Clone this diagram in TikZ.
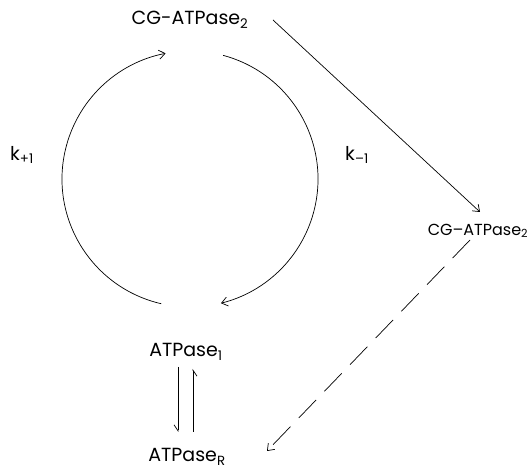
\documentclass[tikz,border=0pt]{standalone}
\usepackage{fontspec}
\setmainfont{Poppins}
\usetikzlibrary{arrows.meta,calc}
\newcommand{\sbs}[1]{\textsubscript{#1}}
\begin{document}
\begin{tikzpicture}[x=1pt,y=1pt,
  lbl/.style={inner sep=0pt, font=\fontsize{19}{21}\selectfont},
  slbl/.style={inner sep=0pt, font=\fontsize{16}{18}\selectfont},
  conn/.style={line width=0.7pt, -{Straight Barb[length=6pt,width=9pt]}},
  harp/.style={line width=0.7pt, -{Straight Barb[length=6pt,width=8pt,right]}}]
\useasboundingbox (0,0) rectangle (528,469);
\coordinate (c) at (190,290);
\node[lbl] (cg1) at (190,449) {CG-ATPase\sbs{2}};
\node[slbl] (cg2) at (478,238) {CG–ATPase\sbs{2}};
\node[lbl] (a1) at (186,117) {ATPase\sbs{1}};
\node[lbl] (aR) at (187,12) {ATPase\sbs{R}};
\node[lbl] (kp) at (22,314) {k\sbs{+1}};
\node[lbl] (km) at (357,314) {k\sbs{–1}};
\draw[conn] ($(c)+(257:128)$) arc[start angle=257, end angle=101, radius=128];
\draw[conn] ($(c)+(75:128)$) arc[start angle=75, end angle=-76, radius=128];
\coordinate (s1) at (273,449);
\coordinate (t1) at (480,257);
\draw[conn] (s1) -- (t1);
\coordinate (s2) at (470,229);
\coordinate (t2) at (267,18);
\draw[conn, dash pattern=on 25pt off 12pt] (s2) -- (t2);
\draw[harp] (178,102) -- (178,37);
\draw[harp] (193,37) -- (193,100);
\end{tikzpicture}
\end{document}
